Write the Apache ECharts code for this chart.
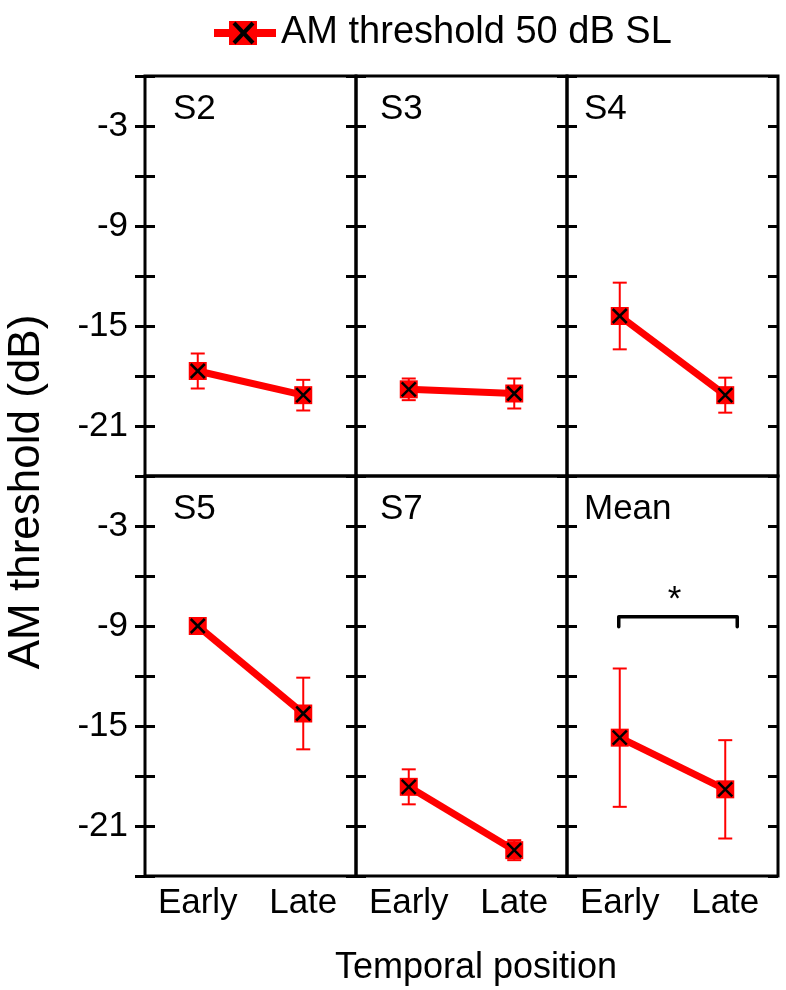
<!DOCTYPE html>
<html><head><meta charset="utf-8">
<script src="https://cdn.jsdelivr.net/npm/echarts@6/dist/echarts.min.js"></script>
<style>html,body{margin:0;padding:0;background:#fff}#c{width:786px;height:990px}</style>
</head><body><div id="c"></div>
<script>
// ---- data ----
const categories = ['Early', 'Late'];
const panelNames = ['S2', 'S3', 'S4', 'S5', 'S7', 'Mean'];
const earlyMean = [-17.7, -18.8, -14.4, -9.0, -18.65, -15.7];
const lateMean  = [-19.15, -19.05, -19.15, -14.25, -22.45, -18.8];
const earlyErr  = [1.05, 0.65, 2.0, 0.3, 1.05, 4.15];
const lateErr   = [0.92, 0.9, 1.05, 2.15, 0.6, 2.95];
const seriesName = 'AM threshold 50 dB SL';
const yAxisTitle = 'AM threshold (dB)';
const xAxisTitle = 'Temporal position';
const yMin = -24, yMax = 0, yStep = 3;
const yTickLabels = [-3, -9, -15, -21];
const sigPanel = 5;
const sigBracketY = -8.45, sigBracketEnd = -9.05, sigStarY = -7.45, sigMark = '*';

// ---- style / layout ----
const RED = '#ff0000';
const FONT = "'Liberation Sans', Arial, Helvetica, sans-serif";
const L0 = 145, T0 = 76, W = 211, H = 400;
const nameOffsetX = [28, 24, 17];

const grids = [], xAxes = [], yAxes = [], series = [], graphics = [];
const mainY = [];

function tickAxis(gi, position, inside, showLabel) {
  return {
    type: 'value', gridIndex: gi, position: position, min: yMin, max: yMax, interval: yStep,
    axisLine: { show: false },
    axisTick: { show: true, inside: inside, length: 10, lineStyle: { color: '#000', width: 3 } },
    splitLine: { show: false },
    axisLabel: showLabel ? {
      show: true, fontSize: 35, fontFamily: FONT, color: '#000', margin: 17,
      formatter: v => yTickLabels.includes(v) ? String(v) : ''
    } : { show: false }
  };
}

function renderErr(params, api) {
  const c = api.value(0), m = api.value(1), e = api.value(2);
  const t = api.coord([c, m + e]), b = api.coord([c, m - e]);
  const hw = 7, st = { stroke: RED, lineWidth: 2 };
  return { type: 'group', children: [
    { type: 'line', shape: { x1: t[0], y1: t[1], x2: b[0], y2: b[1] }, style: st },
    { type: 'line', shape: { x1: t[0] - hw, y1: t[1], x2: t[0] + hw, y2: t[1] }, style: st },
    { type: 'line', shape: { x1: b[0] - hw, y1: b[1], x2: b[0] + hw, y2: b[1] }, style: st }
  ]};
}
function renderMarker(params, api) {
  const p = api.coord([api.value(0), api.value(1)]);
  const s = 9, x = 7, st = { stroke: '#000', lineWidth: 2.5 };
  return { type: 'group', children: [
    { type: 'rect', shape: { x: p[0] - s, y: p[1] - s, width: 2 * s, height: 2 * s }, style: { fill: RED } },
    { type: 'line', shape: { x1: p[0] - x, y1: p[1] - x, x2: p[0] + x, y2: p[1] + x }, style: st },
    { type: 'line', shape: { x1: p[0] + x, y1: p[1] - x, x2: p[0] - x, y2: p[1] + x }, style: st }
  ]};
}
function renderBracket(params, api) {
  const y = api.value(1), yEnd = api.value(2), yStar = api.value(3);
  const a = api.coord([0, y]), b = api.coord([1, y]), d = api.coord([0, yEnd]), s = api.coord([0, yStar]);
  const x1 = a[0] - 1, x2 = b[0] + 12;
  return { type: 'group', children: [
    { type: 'polyline', shape: { points: [[x1, d[1]], [x1, a[1]], [x2, a[1]], [x2, d[1]]] },
      style: { stroke: '#000', lineWidth: 3.5, fill: null, lineJoin: 'round', lineCap: 'round' } },
    { type: 'text', style: { text: sigMark, x: (a[0] + b[0]) / 2 + 2, y: s[1], align: 'center',
      verticalAlign: 'middle', font: '35px ' + FONT, fill: '#000' } }
  ]};
}

for (let i = 0; i < panelNames.length; i++) {
  const row = Math.floor(i / 3), col = i % 3;
  grids.push({ left: L0 + col * W, top: T0 + row * H, width: W, height: H,
    show: true, borderColor: '#000', borderWidth: 3, backgroundColor: 'transparent' });
  xAxes.push({ type: 'category', gridIndex: i, data: categories, boundaryGap: true,
    axisLine: { show: false }, axisTick: { show: false }, splitLine: { show: false },
    axisLabel: { show: row === 1, fontSize: 35, fontFamily: FONT, color: '#000', margin: 10 } });
  mainY.push(yAxes.length);
  if (col === 0) {
    yAxes.push(tickAxis(i, 'left', false, true));
    yAxes.push(tickAxis(i, 'left', true, false));
  } else {
    yAxes.push(tickAxis(i, 'left', true, false));
  }
  yAxes.push(tickAxis(i, 'right', true, false));

  series.push({ type: 'custom', xAxisIndex: i, yAxisIndex: mainY[i], z: 1, silent: true,
    renderItem: renderErr, encode: { x: 0, y: 1 },
    data: [[0, earlyMean[i], earlyErr[i]], [1, lateMean[i], lateErr[i]]] });
  series.push({ type: 'line', name: seriesName, xAxisIndex: i, yAxisIndex: mainY[i], z: 2,
    symbol: 'none', color: RED, lineStyle: { color: RED, width: 7 },
    data: [earlyMean[i], lateMean[i]] });
  series.push({ type: 'custom', xAxisIndex: i, yAxisIndex: mainY[i], z: 3, silent: true,
    renderItem: renderMarker, encode: { x: 0, y: 1 },
    data: [[0, earlyMean[i]], [1, lateMean[i]]] });

  graphics.push({ type: 'text', left: L0 + col * W + nameOffsetX[col] , top: T0 + row * H + 16,
    style: { text: panelNames[i], font: '35px ' + FONT, fill: '#000' } });
}
series.push({ type: 'custom', xAxisIndex: sigPanel, yAxisIndex: mainY[sigPanel], z: 4, silent: true,
  renderItem: renderBracket, encode: { x: 0, y: 1 },
  data: [[0, sigBracketY, sigBracketEnd, sigStarY]] });

// axis titles
graphics.push({ type: 'text', x: 27, y: 492, rotation: Math.PI / 2,
  style: { text: yAxisTitle, font: '44px ' + FONT, fill: '#000', align: 'center', verticalAlign: 'middle' } });
graphics.push({ type: 'text', x: 476, y: 968,
  style: { text: xAxisTitle, font: '36px ' + FONT, fill: '#000', align: 'center', verticalAlign: 'middle' } });
// legend marker cross
graphics.push({ type: 'line', z: 100, zlevel: 0, shape: { x1: 234, y1: 23, x2: 253, y2: 43 }, style: { stroke: '#000', lineWidth: 4 } });
graphics.push({ type: 'line', z: 100, zlevel: 0, shape: { x1: 253, y1: 23, x2: 234, y2: 43 }, style: { stroke: '#000', lineWidth: 4 } });

const chart = echarts.init(document.getElementById('c'), null, { renderer: 'canvas' });
chart.setOption({
  animation: false,
  backgroundColor: '#fff',
  legend: { show: true, left: 214, top: 14, padding: 0, selectedMode: false, z: 2,
    itemWidth: 62, itemHeight: 24,
    data: [{ name: seriesName, icon: 'path://M0,8 L62,8 L62,16 L0,16 Z M15,0 L43,0 L43,24 L15,24 Z' }],
    textStyle: { fontSize: 38, fontFamily: FONT, color: '#000' } },
  grid: grids, xAxis: xAxes, yAxis: yAxes, series: series,
  graphic: graphics
});
</script></body></html>
